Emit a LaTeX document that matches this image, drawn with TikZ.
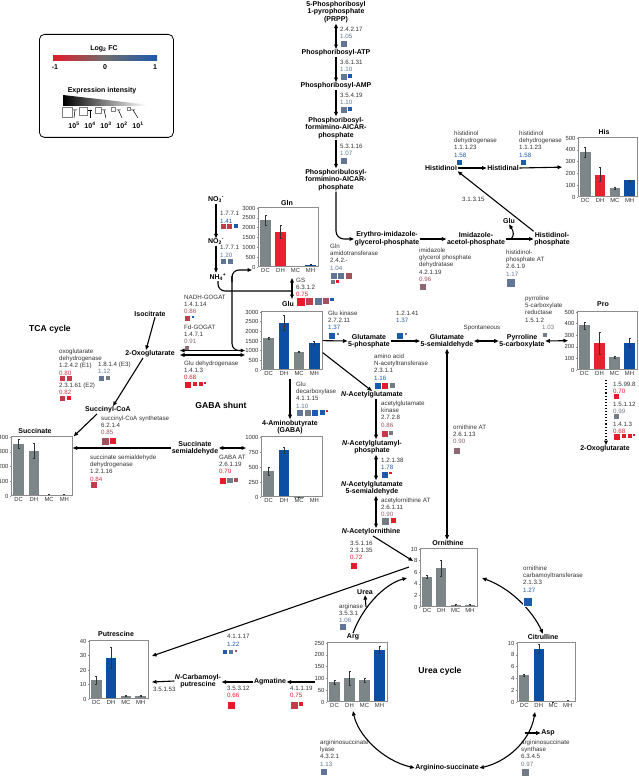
\documentclass[tikz,border=0pt]{standalone}
\usepackage{fontspec}
\setmainfont{Liberation Sans}
\usetikzlibrary{arrows.meta,positioning,calc}

\definecolor{cR}{HTML}{E31B2A}
\definecolor{cRM}{HTML}{C63A4B}
\definecolor{cM}{HTML}{A4505F}
\definecolor{cGM}{HTML}{8E6873}
\definecolor{cG}{HTML}{737B84}
\definecolor{cGB}{HTML}{617696}
\definecolor{cB}{HTML}{1D5AAD}
\definecolor{cMid}{HTML}{6E6E6E}
\definecolor{cBarG}{HTML}{7C8587}
\definecolor{cBarR}{HTML}{E8212E}
\definecolor{cBarB}{HTML}{0B4EA2}
\definecolor{txtgray}{HTML}{333333}
\definecolor{framegray}{HTML}{8C8C8C}

\tikzset{
  met/.style={font=\fontsize{7}{7.6}\selectfont\bfseries, align=center, inner sep=0.5pt},
  cyc/.style={font=\fontsize{8.6}{9}\selectfont\bfseries, inner sep=0},
  enz/.style={font=\fontsize{6.2}{7.3}\selectfont, text=txtgray, align=left, inner sep=0, anchor=north west},
  ticklab/.style={font=\fontsize{5.9}{6}\selectfont, text=txtgray, inner sep=0.5pt},
  chartbox/.style={draw=framegray, line width=0.7pt, inner sep=0},
  axisgray/.style={draw=framegray, line width=0.5pt},
  errbar/.style={line width=0.4pt, black!80},
  arr/.style={-{Triangle[length=4.5pt,width=3.6pt]}, line width=1.1pt},
  dbl/.style={{Triangle[length=4.5pt,width=3.6pt]}-{Triangle[length=4.5pt,width=3.6pt]}, line width=1.1pt},
  dotarr/.style={arr, dotted, line width=1.4pt},
  ln/.style={line width=1.1pt}
}

% fold change value
\newcommand{\fc}[2]{\textcolor{#1}{#2}}
% row of heat squares: top-left corner, list of size/colour
\newcommand{\heat}[2]{%
  \gdef\hmx{0}%
  \foreach \s/\c in {#2} {
    \filldraw[fill=\c, draw=white, line width=0.3pt, shift={#1}] (\hmx,0) rectangle ++(\s,\s);
    \pgfmathsetmacro\hmtmp{\hmx+\s+0.4}\xdef\hmx{\hmtmp}
  }}
% bar chart: name, bottom-left, width, height, ymax, ticks, value/error/colour
\newcommand{\barchart}[7]{%
  \begin{scope}[shift={#2}]
    \foreach \v/\e/\c [count=\i] in {#7} {
      \pgfmathsetmacro\bx{(\i-0.5)*#3/4}
      \pgfmathsetmacro\bt{\v/#5*#4}
      \pgfmathsetmacro\eh{\e/#5*#4}
      \fill[\c] (\bx-0.35*#3/4,0) rectangle (\bx+0.35*#3/4,-\bt);
      \draw[errbar] (\bx,-\bt+\eh) -- (\bx,-\bt-\eh)
        (\bx-1,-\bt-\eh) -- (\bx+1,-\bt-\eh) (\bx-1,-\bt+\eh) -- (\bx+1,-\bt+\eh);
    }
    \foreach \t in {#6} {
      \pgfmathsetmacro\ty{\t/#5*#4}
      \draw[axisgray] (0,-\ty) -- (-1.5,-\ty) node[left=0.3pt, ticklab] {\t};
    }
    \foreach \l [count=\i] in {DC,DH,MC,MH}
      \node[ticklab, anchor=north] at ({(\i-0.5)*#3/4},1) {\l};
  \end{scope}
  \node[chartbox, minimum width=#3, minimum height=#4, anchor=south west] (#1) at #2 {};}

\begin{document}
\begin{tikzpicture}[x=1pt,y=-1pt]
  \useasboundingbox[fill=white] (0,0) rectangle (638,778);

  % legend
  \node[draw, rounded corners=5pt, line width=0.8pt, minimum width=134, minimum height=103, anchor=north west] (legend) at (39,34) {};
  \node[met] (lgfc) at (104,49) {Log\textsubscript{2} FC};
  \shade[left color=cR, right color=cB, middle color=cMid] (53,56) rectangle (157,61);
  \node[met] (lgmin) at (55,67) {-1};
  \node[met] (lgzero) at (105,67) {0};
  \node[met] (lgmax) at (155,67) {1};
  \node[met] (lgei) at (102,91) {Expression intensity};
  \shade[left color=black, right color=white] (63,95) -- (146,104.5) -- (146,106) -- (63,106) -- cycle;
  \foreach \xs/\sz/\ex [count=\k] in {62/10/5, 79/8/4, 95/6/3, 111/4.5/2, 127/3/1} {
    \draw[gray, line width=0.7pt] (\xs,107) rectangle ++(\sz,\sz);
    \draw[line width=0.5pt] (\xs+\sz+1,110) -- (\xs+\sz+5,110) (\xs+\sz+3,110) -- (58+16*\k,118);
    \node[met] (lg\ex) at (58+16*\k,125) {10\textsuperscript{\ex}};
  }

  % bar charts
  \barchart{hisbox}{(578,197)}{59}{59}{500}{0,100,...,500}{380/40/cBarG,190/60/cBarR,75/5/cBarG,140/5/cBarB}
  \node[met] (hist) at (604,132) {His};
  \barchart{glnbox}{(258,267)}{60}{59}{3000}{0,500,...,3000}{2400/250/cBarG,1800/350/cBarR,30/10/cBarG,100/20/cBarB}
  \node[met] (glnt) at (287,203) {Gln};
  \barchart{glubox}{(261,370)}{61}{58}{3000}{0,500,...,3000}{1650/60/cBarG,2450/400/cBarB,950/30/cBarG,1400/100/cBarB}
  \node[met] (glut) at (288,304) {Glu};
  \barchart{probox}{(577,370)}{60}{58}{500}{0,100,...,500}{385/30/cBarG,230/95/cBarR,110/10/cBarG,235/35/cBarB}
  \node[met] (prot) at (603,304) {Pro};
  \barchart{succbox}{(11,496)}{61}{59}{400}{0,100,...,400}{355/30/cBarG,305/50/cBarG,8/3/cBarG,8/3/cBarG}
  \node[met] (succt) at (35,431) {Succinate};
  \barchart{gababox}{(261,497)}{61}{60}{1000}{0,250,...,1000}{430/60/cBarG,780/50/cBarB,5/2/cBarG,15/5/cBarB}
  \node[met] (gabatl) at (290,427) {4-Aminobutyrate\\(GABA)};
  \barchart{ornbox}{(420,607)}{57}{58}{10}{0,2,...,10}{5.2/0.3/cBarG,6.7/1.4/cBarG,0.3/0.1/cBarG,0.3/0.1/cBarG}
  \node[met] (ornt) at (448,543) {Ornithine};
  \barchart{putbox}{(89,699)}{59}{58}{40}{0,10,...,40}{13/2.5/cBarG,28.5/7.5/cBarB,2/0.3/cBarG,2/0.3/cBarG}
  \node[met] (putt) at (116,634) {Putrescine};
  \barchart{argbox}{(327,702)}{60}{59}{250}{0,50,...,250}{85/8/cBarG,100/30/cBarG,92/7/cBarG,220/15/cBarB}
  \node[met] (argt) at (353,637) {Arg};
  \barchart{citbox}{(517,702)}{58}{59}{10}{0,2,...,10}{4.5/0.2/cBarG,9/0.8/cBarB,0.1/0.05/cBarG,0.2/0.1/cBarG}
  \node[met] (citt) at (543,637) {Citrulline};

  % histidine pathway
  \node[met] (prpp) at (336,12) {5-Phosphoribosyl\\1-pyrophosphate\\(PRPP)};
  \node[met] (pratp) at (336,53) {Phosphoribosyl-ATP};
  \node[met] (pramp) at (336,86) {Phosphoribosyl-AMP};
  \node[met] (prfar) at (336,128) {Phosphoribosyl-\\formimino-AICAR-\\phosphate};
  \node[met] (prfar2) at (336,180) {Phosphoribulosyl-\\formimino-AICAR-\\phosphate};
  \node[met] (igp) at (387,239) {Erythro-imidazole-\\glycerol-phosphate};
  \node[met] (iap) at (476,239) {Imidazole-\\acetol-phosphate};
  \node[met] (hisp) at (552,239) {Histidinol-\\phosphate};
  \node[met] (glua) at (509,221) {Glu};
  \node[met] (hisol) at (441,168) {Histidinol};
  \node[met] (hisal) at (503,168) {Histidinal};

  \node[enz] (e1) at (340,26.5) {2.4.2.17\\\fc{cGB}{1.05}};
  \heat{(340,40)}{7/cGB}
  \node[enz] (e2) at (340,59.5) {3.6.1.31\\\fc{cGB}{1.10}};
  \heat{(340,73)}{7/cGB,5/cB}
  \node[enz] (e3) at (340,92.5) {3.5.4.19\\\fc{cGB}{1.10}};
  \heat{(340,106)}{7/cGB,5/cB}
  \node[enz] (e4) at (340,143.5) {5.3.1.16\\\fc{cGB}{1.07}};
  \heat{(340,157)}{7/cGB}
  \node[enz] (hdh1) at (454,130.5) {histidinol\\dehydrogenase\\1.1.1.23\\\fc{cB}{1.58}};
  \heat{(456,159)}{6/cB}
  \node[enz] (hdh2) at (519,130.5) {histidinol\\dehydrogenase\\1.1.1.23\\\fc{cB}{1.58}};
  \heat{(520,159)}{6/cB}
  \node[enz] (gat) at (330,243.5) {Gln\\amidotransferase\\2.4.2.-\\\fc{cGB}{1.04}};
  \heat{(330,272)}{7/cGB,7/cGB,7/cM}
  \heat{(330,279.6)}{5/cG,3.5/cR}
  \node[enz] (igpd) at (419,247.5) {imidazole\\glycerol phosphate\\dehydratase\\4.2.1.19\\\fc{cM}{0.96}};
  \heat{(419,283)}{7/cGM}
  \node[enz] (hpat) at (506,249.5) {histidinol-\\phosphate AT\\2.6.1.9\\\fc{cGB}{1.17}};
  \heat{(506,278)}{9/cGB}
  \node[enz] (hpp) at (462,196.5) {3.1.3.15};

  \draw[dbl] (prpp.south) -- (pratp.north);
  \draw[arr] (pratp.south) -- (pramp.north);
  \draw[arr] (pramp.south) -- (prfar.north);
  \draw[arr] (prfar.south) -- (prfar2.north);
  \draw[arr, rounded corners=8pt] (prfar2.south) |- (igp.west);
  \draw[arr] (igp.east) -- (iap.west);
  \draw[arr] (iap.east) -- (hisp.west);
  \coordinate (gluj) at (511,239);
  \draw[arr] (gluj) .. controls (514,236) and (514,232) .. (glua.south);
  \draw[arr] (hisp.north west) -- (hisol.south east);
  \draw[arr] (hisol.east) -- (hisal.west);
  \draw[arr] (hisal.east) -- ([xshift=-16pt]hisbox.west);

  % nitrogen assimilation
  \node[met] (no3) at (216,200) {NO\textsubscript{3}\textsuperscript{-}};
  \node[met] (no2) at (216,242) {NO\textsubscript{2}\textsuperscript{-}};
  \node[met] (nh4) at (218,277) {NH\textsubscript{4}\textsuperscript{+}};
  \node[enz] (nr) at (220,211.5) {1.7.7.1\\\fc{cB}{1.41}};
  \heat{(220,223)}{6/cRM,6/cRM,5/cB}
  \node[enz] (nir) at (220,245.5) {1.7.7.1\\\fc{cGB}{1.20}};
  \heat{(220,258)}{6.5/cGB,6.5/cGB}
  \draw[arr] (no3.south) -- (no3.south |- no2.north);
  \draw[arr] (no2.south) -- (no2.south |- nh4.north);

  \coordinate (gstop) at (292,278);
  \coordinate (gsbot) at (292,299);
  \coordinate (gsmid) at (292,291);
  \draw[ln, rounded corners=7pt] (nh4.south) |- (gsmid);
  \draw[dbl] (gsbot) -- (gstop);
  \node[enz] (gs) at (296,277.5) {GS\\6.3.1.2\\\fc{cR}{0.75}};
  \heat{(296,297)}{9/cR,8/cRM,8/cGB,7/cM,4.5/cB}

  % GOGAT and Glu dehydrogenase
  \node[enz] (nadh) at (184,294.5) {NADH-GOGAT\\1.4.1.14\\\fc{cM}{0.86}};
  \heat{(184,315)}{6.5/cRM,3.5/cB}
  \node[enz] (fdg) at (184,324.5) {Fd-GOGAT\\1.4.7.1\\\fc{cGM}{0.91}};
  \heat{(184,345)}{5/cGM}
  \node[enz] (gdh) at (184,360.5) {Glu dehydrogenase\\1.4.1.3\\\fc{cR}{0.68}};
  \heat{(184,381)}{7.5/cR,5.5/cR,5/cR,3/cR}

  \coordinate (ogA) at (180,350.5);
  \coordinate (ogB) at (180,355);
  \coordinate (gluA) at (245,350.5);
  \coordinate (gluB) at (245,355);
  \coordinate (ugln) at (252,270);
  \draw[dbl] (ogA) -- (gluA);
  \draw[dbl] (ogB) -- (gluB);
  \draw[ln, rounded corners=7pt] (240,350.5) -- (232,350.5) -- (232,276);
  \draw[arr, rounded corners=7pt] (232,282) -- (232,270) -- (ugln);

  % TCA cycle
  \node[cyc] (tca) at (50,329) {TCA cycle};
  \node[met] (isocit) at (150,314) {Isocitrate};
  \node[met] (oxo) at (150,354) {2-Oxoglutarate};
  \node[met] (succoa) at (108,410) {Succinyl-CoA};
  \node[met] (sucsa) at (195,448) {Succinate\\semialdehyde};
  \draw[arr] ([xshift=5pt]isocit.south) -- ([xshift=-4pt]oxo.north);
  \draw[arr] ([xshift=-7pt]oxo.south) -- ([xshift=5pt]succoa.north);
  \draw[arr] ([xshift=-11pt]succoa.south) -- ([xshift=1pt]succbox.north east);
  \draw[arr] (sucsa.west) -- (sucsa.west -| succbox.east);

  \node[enz] (ogdh) at (59,348.5) {oxoglutarate\\dehydrogenase\\1.2.4.2 (E1)\\\fc{cRM}{0.80}};
  \heat{(59,375)}{6.5/cRM,6.5/cRM}
  \node[enz] (ogdh3) at (98,361.5) {1.8.1.4 (E3)\\\fc{cGB}{1.12}};
  \heat{(98,375)}{6.5/cGB,5/cG}
  \node[enz] (ogdh2) at (59,382.5) {2.3.1.61 (E2)\\\fc{cRM}{0.82}};
  \heat{(59,395)}{6.5/cRM,5/cR}
  \node[enz] (scs) at (101,415.5) {succinyl-CoA synthetase\\6.2.1.4\\\fc{cM}{0.85}};
  \heat{(101,437)}{8/cM,7/cR}
  \node[enz] (ssadh) at (90,454.5) {succinate semialdehyde\\dehydrogenase\\1.2.1.16\\\fc{cRM}{0.84}};
  \heat{(90,481)}{7/cRM}

  % GABA shunt
  \node[cyc] (gabas) at (221,405) {GABA shunt};
  \coordinate (gabal) at (246,448);
  \draw[dbl] (sucsa.east) -- (gabal);
  \node[enz] (gabat) at (219,454.5) {GABA AT\\2.6.1.19\\\fc{cR}{0.70}};
  \heat{(219,477)}{7/cR,6.5/cG,5/cM}
  \coordinate (glubot) at (290,379);
  \draw[arr] (glubot) -- (gabatl.north);
  \node[enz] (gad) at (296,381.5) {Glu\\decarboxylase\\4.1.1.15\\\fc{cGB}{1.10}};
  \heat{(296,409)}{7.5/cGB,7/cG,7/cB,6/cB,3.5/cR}

  % proline branch
  \node[met] (g5p) at (369,341) {Glutamate\\5-phosphate};
  \node[met] (gsa) at (447,341) {Glutamate\\5-semialdehyde};
  \node[met] (p5c) at (522,341) {Pyrroline\\5-carboxylate};
  \node[met] (oxo2) at (605,449) {2-Oxoglutarate};
  \draw[arr] (glubox.east) -- (g5p.west);
  \draw[arr] (g5p.east) -- (gsa.west);
  \draw[dbl] (gsa.east) -- (p5c.west);
  \draw[dbl] (p5c.east) -- ([xshift=-9pt]probox.west);
  \node[enz] (gk) at (328,310.5) {Glu kinase\\2.7.2.11\\\fc{cB}{1.37}};
  \heat{(328,332)}{7.5/cB,3.5/cG}
  \node[enz] (g5pr) at (396,310.5) {1.2.1.41\\\fc{cB}{1.37}};
  \heat{(396,332)}{7.5/cB,3.5/cG}
  \node[enz, anchor=center] (spont) at (482,328) {Spontaneous};
  \node[enz] (p5cr) at (525,295.5) {pyrroline\\5-carboxylate\\reductase\\1.5.1.2};
  \node[enz] (p5crv) at (542,324.5) {\fc{cG}{1.03}};
  \heat{(542,332)}{5.5/cG}
  \coordinate (prob) at (606,380);
  \draw[dotarr] (prob) -- (prob |- oxo2.north);
  \node[enz] (prodh) at (613,381.5) {1.5.99.8\\\fc{cR}{0.70}};
  \heat{(613,393)}{6.5/cR}
  \node[enz] (p5cdh) at (613,401.5) {1.5.1.12\\\fc{cG}{0.99}};
  \heat{(613,413)}{6.5/cG}
  \node[enz] (gdh2) at (613,421.5) {1.4.1.3\\\fc{cR}{0.68}};
  \heat{(613,433)}{7.5/cR,5.5/cR,5/cR,3/cR}

  % acetylated route
  \node[met] (nag) at (372,395) {\textit{N}-Acetylglutamate};
  \node[met] (nagp) at (372,447) {\textit{N}-Acetylglutamyl-\\phosphate};
  \node[met] (nagsa) at (372,488) {\textit{N}-Acetylglutamate\\5-semialdehyde};
  \node[met] (nao) at (371,532) {\textit{N}-Acetylornithine};
  \draw[arr] ([yshift=-12pt]glubox.east) -- (nag.north);
  \draw[arr] ([xshift=4pt]nag.south) -- ([xshift=4pt]nagp.north);
  \draw[dbl] ([xshift=4pt]nagp.south) -- ([xshift=4pt]nagsa.north);
  \draw[dbl] ([xshift=4pt]nagsa.south) -- ([xshift=5pt]nao.north);
  \node[enz] (naga) at (374,353.5) {amino acid\\N-acetyltransferase\\2.3.1.1\\\fc{cB}{1.16}};
  \heat{(374,382)}{7/cB,7/cR,6/cG}
  \node[enz] (agk) at (381,400.5) {acetylglutamate\\kinase\\2.7.2.8\\\fc{cM}{0.86}};
  \heat{(381,430)}{7/cRM,5/cG}
  \node[enz] (nagpr) at (381,457.5) {1.2.1.38\\\fc{cB}{1.78}};
  \heat{(381,471)}{7/cB,3.5/cR}
  \node[enz] (acoat) at (381,497.5) {acetylornithine AT\\2.6.1.11\\\fc{cGM}{0.90}};
  \heat{(381,517)}{8.5/cG,6.5/cR}
  \node[enz] (aod) at (350,540.5) {3.5.1.16\\2.3.1.35\\\fc{cR}{0.72}};
  \heat{(350,562)}{7/cR}

  % urea cycle
  \node[cyc] (ureac) at (440,671) {Urea cycle};
  \draw[dbl] (gsa.south) -- (gsa.south |- ornt.north);
  \node[enz] (oat) at (453,424.5) {ornithine AT\\2.6.1.13\\\fc{cGM}{0.90}};
  \heat{(453,447)}{7/cGM}
  \coordinate (ornin) at (413,561);
  \draw[arr] ([xshift=2pt]nao.south) -- (ornin);

  \coordinate (ornout) at (409,567);
  \coordinate (putin) at (152,656);
  \draw[arr] (ornout) -- (putin);
  \node[enz] (odc) at (227,634.5) {4.1.1.17\\\fc{cB}{1.22}};
  \heat{(222,649)}{5.5/cB,5.5/cGB,3.5/cM}

  \node[met] (urea) at (365,592) {Urea};
  \coordinate (ornarg) at (407,578);
  \draw[arr] (argt.north) .. controls (362,608) and (384,584) .. (ornarg);
  \coordinate (ureaj) at (366,607);
  \draw[arr] (ureaj) -- (urea.south);
  \node[enz] (argase) at (339,603.5) {arginase\\3.5.3.1\\\fc{cGB}{1.06}};
  \heat{(339,623)}{7/cGB}

  \node[met] (agm) at (270,682) {Agmatine};
  \node[met] (ncp) at (198,681) {\textit{N}-Carbamoyl-\\putrescine};
  \coordinate (argin) at (315,682);
  \coordinate (putin2) at (152,682);
  \draw[arr] (argin) -- (agm.east);
  \draw[arr] (agm.west) -- (agm.west -| ncp.east);
  \draw[arr] (ncp.west) -- (putin2);
  \node[enz] (adc) at (290,685.5) {4.1.1.19\\\fc{cR}{0.75}};
  \heat{(290,701)}{8/cRM,5/cR}
  \node[enz] (aih) at (227,685.5) {3.5.3.12\\\fc{cR}{0.66}};
  \heat{(227,701)}{8.5/cR}
  \node[enz] (ncpah) at (153,686.5) {3.5.1.53};

  \node[met] (argsuc) at (447,768) {Arginino-succinate};
  \node[met] (asp) at (548,733) {Asp};
  \coordinate (ornc) at (482,578);
  \coordinate (argb) at (353,711);
  \coordinate (citb) at (535,712);
  \coordinate (asj) at (525,733);
  \draw[dbl] (ornc) .. controls (510,588) and (532,610) .. (citt.north);
  \draw[dbl] (argb) .. controls (358,735) and (382,760) .. (argsuc.west);
  \draw[dbl] (citb) .. controls (530,742) and (506,762) .. (argsuc.east);
  \draw[arr] (asj) -- (asp.west);
  \node[enz] (otc) at (523,565.5) {ornithine\\carbamoyltransferase\\2.1.3.3\\\fc{cB}{1.27}};
  \heat{(523,597)}{9/cB}
  \node[enz] (asl) at (320,739.5) {argininosuccinate\\lyase\\4.3.2.1\\\fc{cGB}{1.13}};
  \heat{(320,768)}{7/cGB}
  \node[enz] (ass) at (521,739.5) {argininosuccinate\\synthase\\6.3.4.5\\\fc{cG}{0.97}};
  \heat{(521,768)}{8.5/cG}
\end{tikzpicture}
\end{document}
